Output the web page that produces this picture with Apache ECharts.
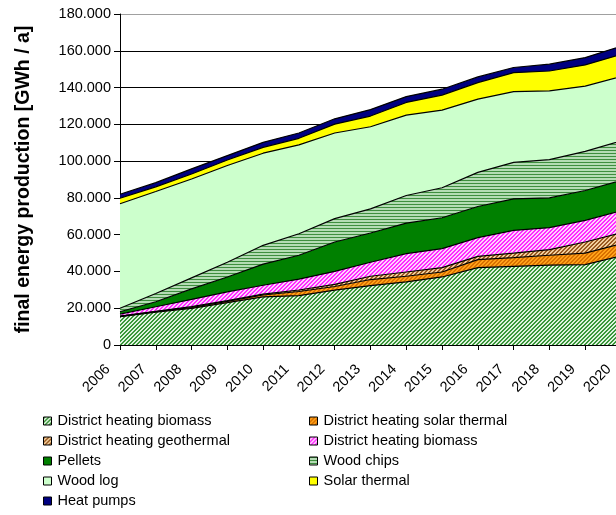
<!DOCTYPE html>
<html>
<head>
<meta charset="utf-8">
<script src="https://cdn.jsdelivr.net/npm/echarts@6/dist/echarts.min.js"></script>
<style>
  html, body { margin: 0; padding: 0; background: #fff; }
  #chart { width: 616px; height: 515px; }
</style>
</head>
<body>
<div id="chart"></div>
<script>
// Final energy production from renewable heat sources, GWh per year
const years = ['2006','2007','2008','2009','2010','2011','2012','2013','2014','2015','2016','2017','2018','2019','2020'];

const dhBiomass    = [15400, 17800, 19900, 23000, 26200, 26800, 29800, 32300, 34300, 37000, 42100, 42800, 43400, 43700, 48500];
const dhSolar      = [200, 300, 500, 700, 1000, 2300, 2000, 3300, 3100, 2700, 4300, 4700, 5400, 6300, 6500];
const dhGeothermal = [100, 200, 500, 400, 500, 800, 1200, 1800, 2300, 2400, 1800, 2500, 3100, 6000, 6000];
const dhBiomass2   = [1100, 2500, 3900, 4800, 4800, 5900, 7000, 7600, 10000, 10300, 10200, 12300, 11900, 11800, 12000];
const pellets      = [1300, 2700, 5700, 8100, 11500, 13000, 16000, 15900, 16600, 16800, 16900, 17200, 16200, 16200, 16500];
const woodChips    = [1900, 4500, 6000, 8000, 10200, 11700, 12700, 13100, 15000, 16300, 18600, 19800, 20800, 21300, 21500];
const woodLog      = [56800, 55500, 53800, 52600, 50100, 48300, 46600, 44700, 43700, 42200, 39800, 38500, 37400, 35500, 35000];
const solarThermal = [3000, 2500, 2700, 3000, 3200, 3600, 4800, 5800, 6900, 8200, 9000, 10300, 10800, 11500, 12000];
const heatPumps    = [2200, 2300, 2800, 2400, 2700, 2900, 2900, 3500, 3200, 3200, 3100, 2800, 3700, 4000, 4500];

const yTicks = [0, 20000, 40000, 60000, 80000, 100000, 120000, 140000, 160000, 180000];

const FONT = '"Liberation Sans", Arial, sans-serif';

// Small canvas tiles used as fill patterns
function tile(w, h, paint) {
  const c = document.createElement('canvas');
  c.width = w; c.height = h;
  const ctx = c.getContext('2d');
  const img = ctx.createImageData(w, h);
  for (let y = 0; y < h; y++) {
    for (let x = 0; x < w; x++) {
      const col = paint(x, y);
      const i = (y * w + x) * 4;
      img.data[i] = parseInt(col.slice(1, 3), 16);
      img.data[i + 1] = parseInt(col.slice(3, 5), 16);
      img.data[i + 2] = parseInt(col.slice(5, 7), 16);
      img.data[i + 3] = 255;
    }
  }
  ctx.putImageData(img, 0, 0);
  return { image: c, repeat: 'repeat' };
}
function diag(fg, bg, period, thick) {
  return tile(period, period, (x, y) => (((x + y) % period) < thick ? fg : bg));
}
function hstripes(fg, bg, period) {
  return tile(4, period, (x, y) => (y % period === 0 ? fg : bg));
}

const fills = {
  dhBio:   diag('#3a963a', '#dff3df', 4, 2),
  dhSolar: diag('#d86f00', '#ffa31a', 4, 2),
  dhGeo:   diag('#9a5a22', '#f2cf9c', 4, 2),
  dhBio2:  diag('#ff2cff', '#ffd0ff', 4, 2),
  pellets: '#008000',
  chips:   hstripes('#3e8e3e', '#b4dcb4', 3),
  log:     '#ccffcc',
  solar:   '#ffff00',
  hp:      '#000080'
};

const layers = [
  { key: 'dhBio',   label: 'District heating biomass',       data: dhBiomass },
  { key: 'dhSolar', label: 'District heating solar thermal', data: dhSolar },
  { key: 'dhGeo',   label: 'District heating geothermal',    data: dhGeothermal },
  { key: 'dhBio2',  label: 'District heating biomass',       data: dhBiomass2 },
  { key: 'pellets', label: 'Pellets',                        data: pellets },
  { key: 'chips',   label: 'Wood chips',                     data: woodChips },
  { key: 'log',     label: 'Wood log',                       data: woodLog },
  { key: 'solar',   label: 'Solar thermal',                  data: solarThermal },
  { key: 'hp',      label: 'Heat pumps',                     data: heatPumps }
];
const labelOf = {};
layers.forEach(l => { labelOf[l.key] = l.label; });

const series = layers.map(l => ({
  name: l.key,
  type: 'line',
  stack: 'total',
  data: l.data,
  symbol: 'none',
  smooth: false,
  lineStyle: { color: '#000', width: 1.2 },
  itemStyle: { color: fills[l.key] },
  areaStyle: { color: fills[l.key], opacity: 1 },
  emphasis: { disabled: true }
}));

function legendItem(key) {
  return { name: key, icon: 'rect', itemStyle: { color: fills[key], borderColor: '#000', borderWidth: 1 } };
}
const legendCommon = {
  orient: 'vertical',
  top: 413,
  padding: 0,
  itemWidth: 8,
  itemHeight: 8,
  itemGap: 4,
  selectedMode: false,
  formatter: name => labelOf[name],
  textStyle: { fontFamily: FONT, fontSize: 14.5, color: '#000', lineHeight: 16, padding: [0, 0, 0, 1] }
};

function fmt(v) {
  return String(v).replace(/\B(?=(\d{3})+(?!\d))/g, '.');
}

const chart = echarts.init(document.getElementById('chart'), null, { renderer: 'canvas' });
chart.setOption({
  animation: false,
  backgroundColor: '#fff',
  grid: { left: 120, top: 14, width: 501, height: 331, containLabel: false, outerBoundsMode: 'none' },
  legend: [
    Object.assign({}, legendCommon, { left: 43, data: ['dhBio', 'dhGeo', 'pellets', 'log', 'hp'].map(legendItem) }),
    Object.assign({}, legendCommon, { left: 309, data: ['dhSolar', 'dhBio2', 'chips', 'solar'].map(legendItem) })
  ],
  xAxis: {
    type: 'category',
    data: years,
    boundaryGap: false,
    axisLine: { lineStyle: { color: '#000', width: 1 } },
    axisTick: { show: true, length: 5, lineStyle: { color: '#000' } },
    axisLabel: { rotate: 45, margin: 10, padding: [0, 17, 0, 0], fontFamily: FONT, fontSize: 14.5, color: '#000', interval: 0 },
    splitLine: { show: false }
  },
  yAxis: {
    type: 'value',
    min: yTicks[0],
    max: yTicks[yTicks.length - 1],
    interval: yTicks[1] - yTicks[0],
    name: 'final energy production [GWh / a]',
    nameLocation: 'middle',
    nameRotate: 90,
    nameGap: 86,
    nameTextStyle: { fontFamily: FONT, fontSize: 19.5, fontWeight: 'bold', color: '#000' },
    axisLine: { show: true, lineStyle: { color: '#000', width: 1 } },
    axisTick: { show: true, length: 6, lineStyle: { color: '#000' } },
    axisLabel: { margin: 9, fontFamily: FONT, fontSize: 14.5, color: '#000', formatter: fmt },
    splitLine: {
      show: true,
      lineStyle: { color: ['#000', '#000', '#000', '#000', '#000', '#000', '#000', '#000', '#000', '#a0a0a0'], width: 1 }
    }
  },
  series: series
});
</script>
</body>
</html>
